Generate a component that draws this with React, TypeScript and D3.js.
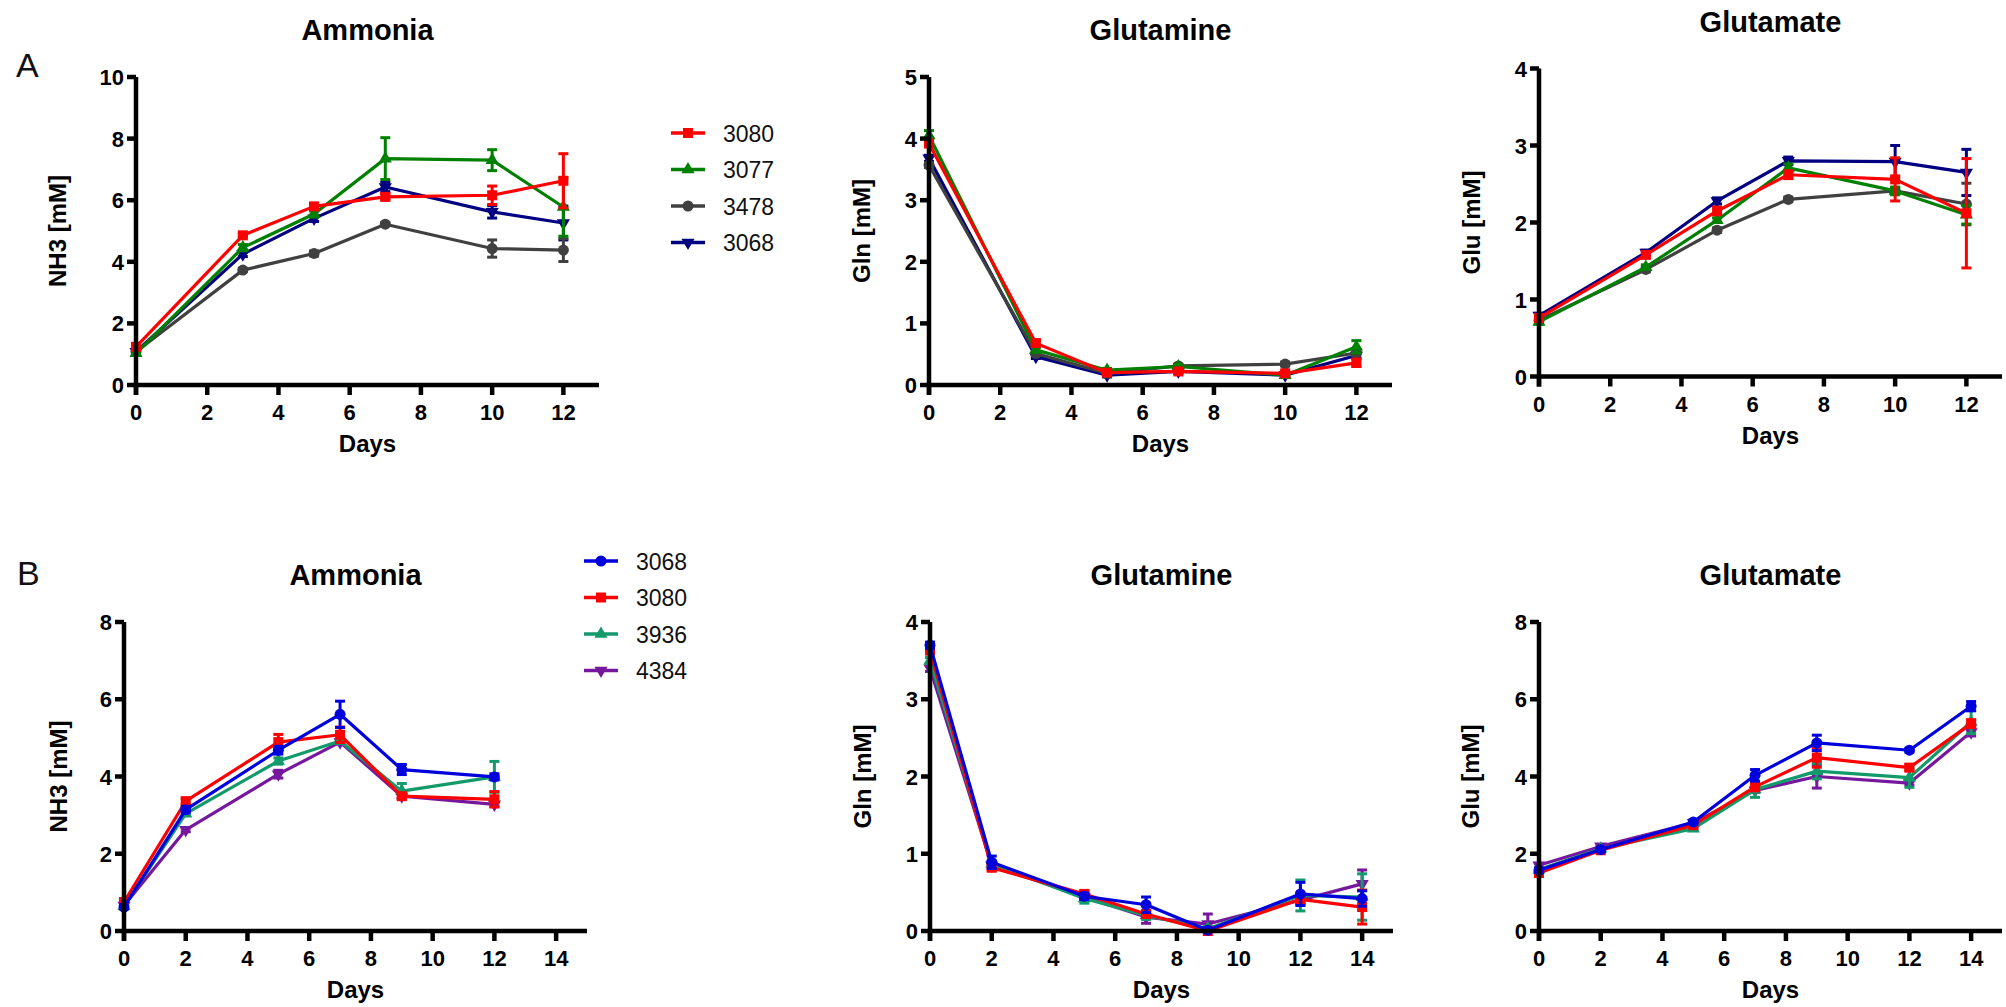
import React from 'react';
import * as d3 from 'd3';

// ---------- data ----------
const daysA = [0, 3, 5, 7, 10, 12];
const daysBAmmonia = [0, 2, 5, 7, 9, 12];
const daysB = [0, 2, 5, 7, 9, 12, 14];

const seriesA = ['3080', '3077', '3478', '3068'];
const seriesB = ['3068', '3080', '3936', '4384'];

const titles = ['Ammonia', 'Glutamine', 'Glutamate'];
const yLabels = ['NH3 [mM]', 'Gln [mM]', 'Glu [mM]'];
const xLabel = 'Days';
const panelLetters = ['A', 'B'];

const ticksAmmoniaA = [0, 2, 4, 6, 8, 10];
const ticksGlnA = [0, 1, 2, 3, 4, 5];
const ticksGluA = [0, 1, 2, 3, 4];
const ticksAmmoniaB = [0, 2, 4, 6, 8];
const ticksGlnB = [0, 1, 2, 3, 4];
const ticksGluB = [0, 2, 4, 6, 8];
const xTicksA = [0, 2, 4, 6, 8, 10, 12];
const xTicksB = [0, 2, 4, 6, 8, 10, 12, 14];

// Row A – Ammonia
const ammA_3080 = [1.24, 4.86, 5.8, 6.11, 6.16, 6.63];
const ammA_3080_sd = [0.05, 0.05, 0.08, 0.1, 0.3, 0.88];
const ammA_3077 = [1.03, 4.46, 5.55, 7.35, 7.3, 5.78];
const ammA_3077_sd = [0.05, 0.1, 0.1, 0.68, 0.34, 0.95];
const ammA_3478 = [1.08, 3.73, 4.27, 5.22, 4.43, 4.38];
const ammA_3478_sd = [0.05, 0.05, 0.08, 0.05, 0.28, 0.37];
const ammA_3068 = [1.08, 4.25, 5.41, 6.43, 5.62, 5.26];
const ammA_3068_sd = [0.05, 0.08, 0.1, 0.15, 0.2, 0.55];

// Row A – Glutamine
const glnA_3080 = [3.92, 0.68, 0.2, 0.22, 0.19, 0.36];
const glnA_3080_sd = [0.05, 0.05, 0.03, 0.03, 0.03, 0.06];
const glnA_3077 = [4.05, 0.57, 0.24, 0.3, 0.16, 0.62];
const glnA_3077_sd = [0.08, 0.04, 0.03, 0.03, 0.03, 0.1];
const glnA_3478 = [3.57, 0.51, 0.19, 0.31, 0.34, 0.52];
const glnA_3478_sd = [0.04, 0.03, 0.03, 0.03, 0.03, 0.05];
const glnA_3068 = [3.68, 0.46, 0.16, 0.22, 0.16, 0.48];
const glnA_3068_sd = [0.05, 0.03, 0.03, 0.03, 0.03, 0.05];

// Row A – Glutamate
const gluA_3080 = [0.76, 1.58, 2.15, 2.62, 2.56, 2.12];
const gluA_3080_sd = [0.03, 0.03, 0.05, 0.05, 0.28, 0.71];
const gluA_3077 = [0.71, 1.42, 2.03, 2.71, 2.41, 2.1];
const gluA_3077_sd = [0.03, 0.03, 0.03, 0.05, 0.05, 0.12];
const gluA_3478 = [0.73, 1.39, 1.9, 2.3, 2.41, 2.24];
const gluA_3478_sd = [0.03, 0.03, 0.03, 0.03, 0.04, 0.27];
const gluA_3068 = [0.79, 1.61, 2.28, 2.8, 2.79, 2.65];
const gluA_3068_sd = [0.03, 0.03, 0.04, 0.05, 0.21, 0.3];

// Row B – Ammonia
const ammB_3068 = [0.62, 3.14, 4.68, 5.61, 4.18, 3.99];
const ammB_3068_sd = [0.05, 0.08, 0.1, 0.34, 0.13, 0.08];
const ammB_3080 = [0.75, 3.36, 4.89, 5.08, 3.49, 3.41];
const ammB_3080_sd = [0.05, 0.08, 0.2, 0.2, 0.05, 0.2];
const ammB_3936 = [0.64, 3.04, 4.4, 4.92, 3.62, 3.99];
const ammB_3936_sd = [0.05, 0.05, 0.08, 0.06, 0.2, 0.4];
const ammB_4384 = [0.66, 2.62, 4.06, 4.89, 3.49, 3.28];
const ammB_4384_sd = [0.05, 0.05, 0.1, 0.05, 0.05, 0.05];

// Row B – Glutamine
const glnB_3068 = [3.7, 0.89, 0.45, 0.34, 0.01, 0.48, 0.42];
const glnB_3068_sd = [0.04, 0.08, 0.04, 0.1, 0.02, 0.15, 0.1];
const glnB_3080 = [3.63, 0.82, 0.48, 0.22, 0.0, 0.41, 0.31];
const glnB_3080_sd = [0.04, 0.04, 0.04, 0.04, 0.02, 0.05, 0.22];
const glnB_3936 = [3.5, 0.87, 0.42, 0.2, 0.03, 0.46, 0.44];
const glnB_3936_sd = [0.04, 0.04, 0.06, 0.05, 0.03, 0.2, 0.3];
const glnB_4384 = [3.4, 0.85, 0.44, 0.18, 0.09, 0.4, 0.61];
const glnB_4384_sd = [0.04, 0.04, 0.04, 0.08, 0.13, 0.05, 0.18];

// Row B – Glutamate
const gluB_3068 = [1.57, 2.11, 2.82, 4.03, 4.87, 4.68, 5.82];
const gluB_3068_sd = [0.05, 0.05, 0.05, 0.15, 0.2, 0.05, 0.12];
const gluB_3080 = [1.5, 2.09, 2.74, 3.73, 4.49, 4.23, 5.37];
const gluB_3080_sd = [0.05, 0.05, 0.05, 0.1, 0.25, 0.08, 0.1];
const gluB_3936 = [1.59, 2.13, 2.65, 3.66, 4.14, 3.97, 5.41];
const gluB_3936_sd = [0.05, 0.05, 0.05, 0.2, 0.2, 0.25, 0.3];
const gluB_4384 = [1.7, 2.19, 2.8, 3.64, 4.0, 3.83, 5.15];
const gluB_4384_sd = [0.05, 0.05, 0.05, 0.05, 0.3, 0.05, 0.1];

// ---------- styles ----------
const styleA: Record<string, { color: string; shape: string }> = {
  '3080': { color: '#FF0000', shape: 'square' },
  '3077': { color: '#008000', shape: 'triangle' },
  '3478': { color: '#404040', shape: 'circle' },
  '3068': { color: '#000080', shape: 'triangleDown' },
};
const styleB: Record<string, { color: string; shape: string }> = {
  '3068': { color: '#0000DD', shape: 'circle' },
  '3080': { color: '#FF0000', shape: 'square' },
  '3936': { color: '#139A6A', shape: 'triangle' },
  '4384': { color: '#76189E', shape: 'triangleDown' },
};

const BOLD = "'Liberation Sans', Arial, Helvetica, sans-serif";

type Series = { name: string; vals: number[]; sd: number[] };
type Panel = {
  x0: number; yTop: number; yBottom: number; xMax: number;
  yMax: number; yTicks: number[]; xTicks: number[]; days: number[];
  title: string; yLabel: string; yLabOff: number;
  series: Series[]; style: typeof styleA;
};

const AXW = 463;

const panels: Panel[] = [
  {
    x0: 136, yTop: 77, yBottom: 385, xMax: 13, yMax: 10, yTicks: ticksAmmoniaA, xTicks: xTicksA, days: daysA,
    title: titles[0], yLabel: yLabels[0], yLabOff: 70, style: styleA,
    series: [
      { name: '3080', vals: ammA_3080, sd: ammA_3080_sd },
      { name: '3077', vals: ammA_3077, sd: ammA_3077_sd },
      { name: '3478', vals: ammA_3478, sd: ammA_3478_sd },
      { name: '3068', vals: ammA_3068, sd: ammA_3068_sd },
    ],
  },
  {
    x0: 929, yTop: 77, yBottom: 385, xMax: 13, yMax: 5, yTicks: ticksGlnA, xTicks: xTicksA, days: daysA,
    title: titles[1], yLabel: yLabels[1], yLabOff: 59, style: styleA,
    series: [
      { name: '3080', vals: glnA_3080, sd: glnA_3080_sd },
      { name: '3077', vals: glnA_3077, sd: glnA_3077_sd },
      { name: '3478', vals: glnA_3478, sd: glnA_3478_sd },
      { name: '3068', vals: glnA_3068, sd: glnA_3068_sd },
    ],
  },
  {
    x0: 1539, yTop: 68.5, yBottom: 376.5, xMax: 13, yMax: 4, yTicks: ticksGluA, xTicks: xTicksA, days: daysA,
    title: titles[2], yLabel: yLabels[2], yLabOff: 59, style: styleA,
    series: [
      { name: '3080', vals: gluA_3080, sd: gluA_3080_sd },
      { name: '3077', vals: gluA_3077, sd: gluA_3077_sd },
      { name: '3478', vals: gluA_3478, sd: gluA_3478_sd },
      { name: '3068', vals: gluA_3068, sd: gluA_3068_sd },
    ],
  },
  {
    x0: 124, yTop: 622, yBottom: 931, xMax: 15, yMax: 8, yTicks: ticksAmmoniaB, xTicks: xTicksB, days: daysBAmmonia,
    title: titles[0], yLabel: yLabels[0], yLabOff: 57, style: styleB,
    series: [
      { name: '3068', vals: ammB_3068, sd: ammB_3068_sd },
      { name: '3080', vals: ammB_3080, sd: ammB_3080_sd },
      { name: '3936', vals: ammB_3936, sd: ammB_3936_sd },
      { name: '4384', vals: ammB_4384, sd: ammB_4384_sd },
    ],
  },
  {
    x0: 930, yTop: 622, yBottom: 931, xMax: 15, yMax: 4, yTicks: ticksGlnB, xTicks: xTicksB, days: daysB,
    title: titles[1], yLabel: yLabels[1], yLabOff: 59, style: styleB,
    series: [
      { name: '3068', vals: glnB_3068, sd: glnB_3068_sd },
      { name: '3080', vals: glnB_3080, sd: glnB_3080_sd },
      { name: '3936', vals: glnB_3936, sd: glnB_3936_sd },
      { name: '4384', vals: glnB_4384, sd: glnB_4384_sd },
    ],
  },
  {
    x0: 1539, yTop: 622, yBottom: 931, xMax: 15, yMax: 8, yTicks: ticksGluB, xTicks: xTicksB, days: daysB,
    title: titles[2], yLabel: yLabels[2], yLabOff: 60, style: styleB,
    series: [
      { name: '3068', vals: gluB_3068, sd: gluB_3068_sd },
      { name: '3080', vals: gluB_3080, sd: gluB_3080_sd },
      { name: '3936', vals: gluB_3936, sd: gluB_3936_sd },
      { name: '4384', vals: gluB_4384, sd: gluB_4384_sd },
    ],
  },
];

function symbolPath(shape: string): { d: string; rot: number } {
  switch (shape) {
    case 'square':
      return { d: d3.symbol().type(d3.symbolSquare).size(100)() as string, rot: 0 };
    case 'circle':
      return { d: d3.symbol().type(d3.symbolCircle).size(95)() as string, rot: 0 };
    case 'triangle':
      return { d: d3.symbol().type(d3.symbolTriangle).size(75)() as string, rot: 0 };
    default:
      return { d: d3.symbol().type(d3.symbolTriangle).size(75)() as string, rot: 180 };
  }
}

function Marker({ x, y, shape, color }: { x: number; y: number; shape: string; color: string }) {
  const s = symbolPath(shape);
  return <path d={s.d} transform={`translate(${x},${y}) rotate(${s.rot})`} fill={color} />;
}

function PanelView({ p }: { p: Panel }) {
  const x = d3.scaleLinear().domain([0, p.xMax]).range([p.x0, p.x0 + AXW]);
  const y = d3.scaleLinear().domain([0, p.yMax]).range([p.yBottom, p.yTop]);
  const line = d3.line<[number, number]>().x((d) => x(d[0])).y((d) => y(d[1]));
  const drawOrder = [...p.series].reverse();
  const cx = (p.x0 + p.x0 + AXW) / 2;
  return (
    <g>
      {/* title */}
      <text x={cx} y={p.yTop - 37} textAnchor="middle" fontFamily={BOLD} fontWeight="bold" fontSize={29}>
        {p.title}
      </text>
      {/* y label */}
      <text
        transform={`translate(${p.x0 - p.yLabOff},${(p.yTop + p.yBottom) / 2}) rotate(-90)`}
        textAnchor="middle" fontFamily={BOLD} fontWeight="bold" fontSize={24}
      >
        {p.yLabel}
      </text>
      {/* x label */}
      <text x={cx} y={p.yBottom + 67} textAnchor="middle" fontFamily={BOLD} fontWeight="bold" fontSize={24}>
        {xLabel}
      </text>
      {/* series */}
      {drawOrder.map((s) => {
        const st = p.style[s.name];
        const pts: [number, number][] = p.days.map((d, i) => [d, s.vals[i]]);
        return (
          <g key={s.name}>
            {p.days.map((d, i) => {
              const hi = y(s.vals[i] + s.sd[i]);
              const lo = y(Math.max(0, s.vals[i] - s.sd[i]));
              return (
                <g key={i} stroke={st.color} strokeWidth={3}>
                  <line x1={x(d)} x2={x(d)} y1={hi} y2={lo} />
                  <line x1={x(d) - 5} x2={x(d) + 5} y1={hi} y2={hi} />
                  <line x1={x(d) - 5} x2={x(d) + 5} y1={lo} y2={lo} />
                </g>
              );
            })}
            <path d={line(pts) as string} fill="none" stroke={st.color} strokeWidth={3.2} strokeLinejoin="round" />
            {pts.map((pt, i) => (
              <Marker key={i} x={x(pt[0])} y={y(pt[1])} shape={st.shape} color={st.color} />
            ))}
          </g>
        );
      })}
      {/* axes */}
      <g stroke="#000" strokeWidth={4.5}>
        <line x1={p.x0} x2={p.x0} y1={p.yTop} y2={p.yBottom + 10} />
        <line x1={p.x0 - 2} x2={p.x0 + AXW} y1={p.yBottom} y2={p.yBottom} />
        {p.yTicks.map((t) => (
          <line key={t} x1={p.x0 - 9} x2={p.x0} y1={y(t)} y2={y(t)} />
        ))}
        {p.xTicks.map((t) => (
          <line key={t} x1={x(t)} x2={x(t)} y1={p.yBottom} y2={p.yBottom + 10} />
        ))}
      </g>
      {p.yTicks.map((t) => (
        <text key={t} x={p.x0 - 12} y={y(t) + 8} textAnchor="end" fontFamily={BOLD} fontWeight="bold" fontSize={22}>
          {t}
        </text>
      ))}
      {p.xTicks.map((t) => (
        <text key={t} x={x(t)} y={p.yBottom + 35} textAnchor="middle" fontFamily={BOLD} fontWeight="bold" fontSize={22}>
          {t}
        </text>
      ))}
    </g>
  );
}

function Legend({ names, style, x0, y0 }: { names: string[]; style: typeof styleA; x0: number; y0: number }) {
  return (
    <g>
      {names.map((n, i) => {
        const yy = y0 + i * 36.5;
        const st = style[n];
        return (
          <g key={n}>
            <line x1={x0} x2={x0 + 34} y1={yy} y2={yy} stroke={st.color} strokeWidth={3.5} />
            <Marker x={x0 + 17} y={yy} shape={st.shape} color={st.color} />
            <text x={x0 + 52} y={yy + 8.5} fontFamily={BOLD} fontSize={23} fill="#111">
              {n}
            </text>
          </g>
        );
      })}
    </g>
  );
}

export default function App() {
  return (
    <svg width={2006} height={1007} style={{ position: 'absolute', left: 0, top: 0, background: '#fff' }}>
      <rect width={2006} height={1007} fill="#fff" />
      <text x={16} y={77} fontFamily={BOLD} fontSize={34} fill="#111">{panelLetters[0]}</text>
      <text x={17} y={585} fontFamily={BOLD} fontSize={34} fill="#111">{panelLetters[1]}</text>
      {panels.map((p, i) => (
        <PanelView key={i} p={p} />
      ))}
      <Legend names={seriesA} style={styleA} x0={671} y0={133} />
      <Legend names={seriesB} style={styleB} x0={584} y0={561} />
    </svg>
  );
}
